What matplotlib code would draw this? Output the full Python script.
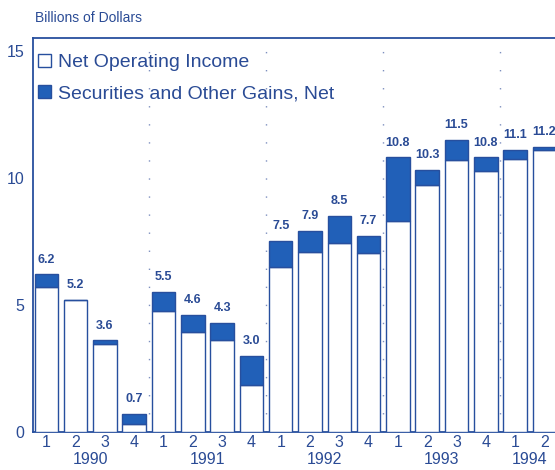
import matplotlib
matplotlib.use("Agg")
import matplotlib.pyplot as plt
from matplotlib.patches import Patch
import numpy as np

plt.rcParams['font.family'] = ['Liberation Sans', 'DejaVu Sans']

quarters = ["1", "2", "3", "4", "1", "2", "3", "4", "1", "2", "3", "4",
            "1", "2", "3", "4", "1", "2"]
years = ["1990", "1991", "1992", "1993", "1994"]
totals = [6.2, 5.2, 3.6, 0.7, 5.5, 4.6, 4.3, 3.0, 7.5, 7.9, 8.5, 7.7,
          10.8, 10.3, 11.5, 10.8, 11.1, 11.2]
net_operating = [5.7, 5.2, 3.45, 0.3, 4.75, 3.95, 3.6, 1.85, 6.5, 7.1, 7.45, 7.05,
                 8.3, 9.7, 10.7, 10.25, 10.75, 11.1]
securities = [0.5, 0.0, 0.15, 0.4, 0.75, 0.65, 0.7, 1.15, 1.0, 0.8, 1.05, 0.65,
              2.5, 0.6, 0.8, 0.55, 0.35, 0.1]

BLUE = "#2160b8"
EDGE = "#274f9e"
TEXT = "#2a4b95"

W, H = 555, 470
fig = plt.figure(figsize=(W / 100, H / 100), dpi=100)
left_px, right_px, top_px, bot_px = 33, 562, 38, 432
ax = fig.add_axes([left_px / W, 1 - bot_px / H, (right_px - left_px) / W, (bot_px - top_px) / H])

x = np.arange(len(totals))
bw = 0.8
ax.bar(x, net_operating, width=bw, color="white", edgecolor=EDGE, linewidth=1.0, zorder=3)
ax.bar(x, securities, width=bw, bottom=net_operating, color=BLUE, edgecolor=EDGE,
       linewidth=1.0, zorder=3)

for xi, t in zip(x, totals):
    ax.text(xi, t + 0.35, f"{t:.1f}", ha="center", va="bottom", fontsize=9,
            color=TEXT, fontweight="bold", zorder=4)

# year separators
for b in [3.5, 7.5, 11.5, 15.5]:
    ax.axvline(b, color="#7d8fbf", linewidth=1.0, linestyle=(0, (1, 12)), zorder=1)

ax.set_xlim(-0.454, 17.6)
ax.set_ylim(0, 15.5)
ax.set_yticks([0, 5, 10, 15])
ax.set_yticklabels(["0", "5", "10", "15"], fontsize=11.5, color=TEXT)
ax.set_xticks(x)
ax.set_xticklabels(quarters, fontsize=11.5, color=TEXT)
ax.tick_params(axis="y", length=0, pad=6)
ax.tick_params(axis="x", length=0, pad=2)

year_centers = [1.5, 5.5, 9.5, 13.5, 16.5]
for xc, yr in zip(year_centers, years):
    ax.text(xc, -0.052, yr, transform=ax.get_xaxis_transform(), ha="center",
            va="top", fontsize=11.5, color=TEXT)

for s in ["left", "bottom", "top"]:
    ax.spines[s].set_color(EDGE)
    ax.spines[s].set_linewidth(1.3)
ax.spines["right"].set_visible(False)

handles = [Patch(facecolor="white", edgecolor=EDGE, linewidth=1.0),
           Patch(facecolor=BLUE, edgecolor=EDGE, linewidth=1.0)]
leg = ax.legend(handles, ["Net Operating Income", "Securities and Other Gains, Net"],
                loc="upper left", bbox_to_anchor=(-0.012, 0.99), frameon=False,
                fontsize=14, handlelength=0.65, handleheight=0.7, handletextpad=0.35,
                labelspacing=0.7, borderaxespad=0.2)
for t in leg.get_texts():
    t.set_color(TEXT)

fig.text(35 / W, 1 - 18 / H, "Billions of Dollars", fontsize=10, color=TEXT,
         ha="left", va="center")

fig.savefig("out.png", dpi=100)
